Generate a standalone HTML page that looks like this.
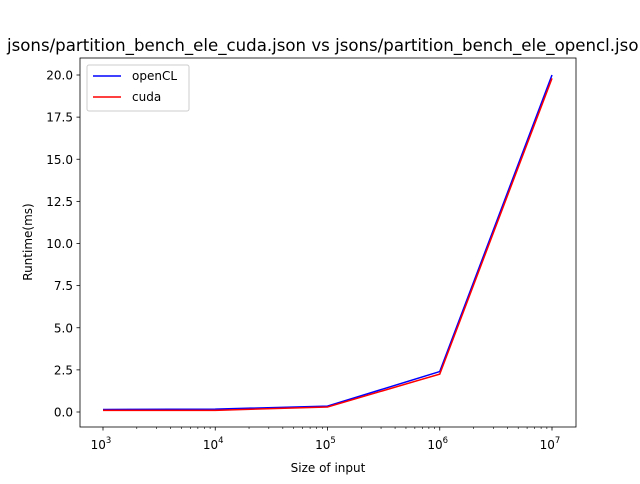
<!DOCTYPE html>
<html><head><meta charset="utf-8"><style>
body{margin:0;background:#fff;font-family:"DejaVu Sans","Liberation Sans",sans-serif;}
svg text{font-family:"DejaVu Sans","Liberation Sans",sans-serif;}
</style></head><body>
<svg id="chart" width="640" height="480" xmlns="http://www.w3.org/2000/svg">
<rect width="640" height="480" fill="#fff"/>
<text x="328" y="51" text-anchor="middle" font-size="16.4" textLength="642" lengthAdjust="spacingAndGlyphs">jsons/partition_bench_ele_cuda.json vs jsons/partition_bench_ele_opencl.json</text>
<g id="plot"></g>
<rect x="80" y="58" width="496" height="369" fill="none" stroke="#000" stroke-width="0.8"/>
<text x="328" y="472" text-anchor="middle" font-size="12">Size of input</text>
<text transform="translate(32,242) rotate(-90)" text-anchor="middle" font-size="12">Runtime(ms)</text>
<g>
<rect x="87" y="65" width="102" height="46" rx="2" fill="#fff" stroke="#ccc"/>
<line x1="93" y1="76" x2="121" y2="76" stroke="blue" stroke-width="1.5"/>
<text x="132" y="80" font-size="12">openCL</text>
<line x1="93" y1="97" x2="121" y2="97" stroke="red" stroke-width="1.5"/>
<text x="132" y="101" font-size="12">cuda</text>
</g>
</svg>
<script>
const sizes=[1e3,1e4,1e5,1e6,1e7];
const openclValues=[0.15,0.17,0.35,2.4,20.0];
const cudaValues=[0.1,0.1,0.3,2.25,19.8];
const yTicks=[0,2.5,5,7.5,10,12.5,15,17.5,20];
const xTickExps=[3,4,5,6,7];
const NS="http://www.w3.org/2000/svg";
const g=document.getElementById('plot');
function xs(v){return 103+(Math.log10(v)-3)*112.25;}
function ys(v){return 412-v*16.85;}
function mk(t,a){const e=document.createElementNS(NS,t);for(const k in a)e.setAttribute(k,a[k]);g.appendChild(e);return e;}
yTicks.forEach(v=>{
 const l=mk('line',{x1:76.5,x2:80,y1:ys(v),y2:ys(v),stroke:'#000','stroke-width':0.8});
 
 
 const t=mk('text',{x:73,y:ys(v)+4.5,'text-anchor':'end','font-size':12});
 t.textContent=v.toFixed(1);
 
 
});
xTickExps.forEach(e=>{
 const x=xs(Math.pow(10,e));
 const l=mk('line',{x1:x,x2:x,y1:427,y2:430.5,stroke:'#000','stroke-width':0.8});
 
 
 const t=mk('text',{x:x-2,y:449,'text-anchor':'middle','font-size':12});
 t.innerHTML='10<tspan dy="-6" font-size="8.5">'+e+'</tspan>';
 
 
 for(let k=2;k<10&&e<7;k++){
  const mx=xs(k*Math.pow(10,e));
  const m=mk('line',{x1:mx,x2:mx,y1:427,y2:429,stroke:'#000','stroke-width':0.6});
  
  
 }
});
[[openclValues,'blue','opencl-line'],[cudaValues,'red','cuda-line']].forEach(([vals,c,n])=>{
 const p=mk('polyline',{points:sizes.map((s,i)=>xs(s)+','+ys(vals[i])).join(' '),fill:'none',stroke:c,'stroke-width':1.5});
 
 
});
</script>
</body></html>
